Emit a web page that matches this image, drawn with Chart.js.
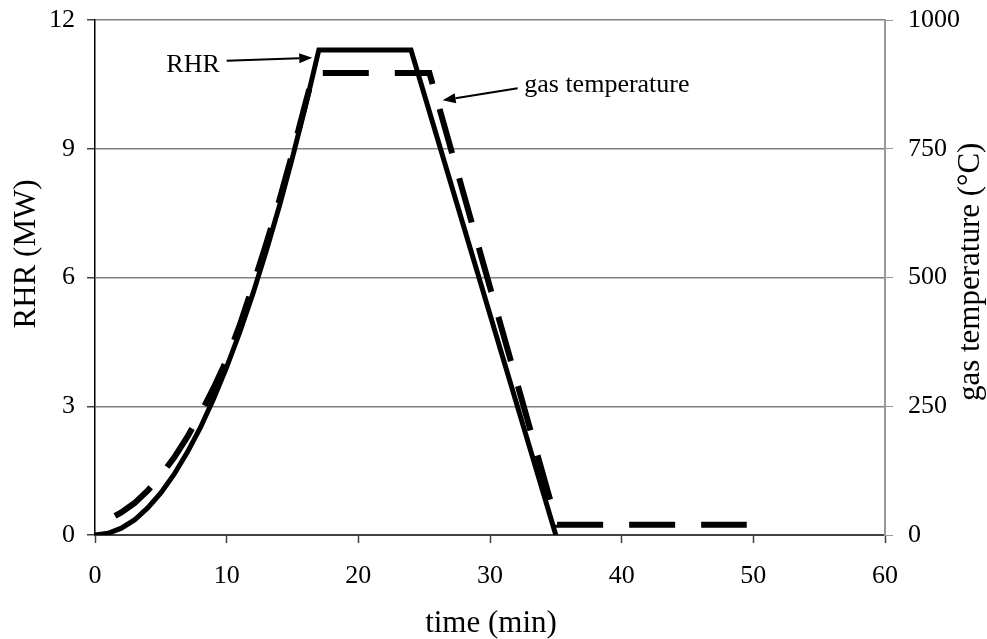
<!DOCTYPE html>
<html>
<head>
<meta charset="utf-8">
<script src="https://cdn.jsdelivr.net/npm/chart.js@4.4.1/dist/chart.umd.min.js"></script>
<style>
  html, body { margin: 0; padding: 0; background: #fff; }
  canvas { display: block; }
</style>
</head>
<body>
<canvas id="fireChart" width="987" height="639"></canvas>
<script>
// RHR curve (MW) vs time (min)
var rhrTime   = [0, 1, 2, 3, 4, 5, 6, 7, 8, 9, 10, 11, 12, 13, 14, 15, 16, 17, 24, 35];
var rhrValues = [0, 0.04, 0.16, 0.35, 0.63, 0.98, 1.41, 1.92, 2.5, 3.17, 3.91, 4.73, 5.63, 6.61, 7.66, 8.8, 10.01, 11.3, 11.3, 0];

// gas temperature (°C) vs time (min)
var gasTime   = [0, 1, 2, 3, 4, 5, 6, 7, 8, 9, 10, 11, 12, 13, 14, 15, 16, 16.6, 25.4, 35.1, 49.5];
var gasValues = [22, 30, 44, 62, 86, 116, 150, 190, 235, 285, 340, 408, 485, 565, 650, 742, 840, 897, 897, 20, 20];

var xTicks = [0, 10, 20, 30, 40, 50, 60];
var rhrTicks = [0, 3, 6, 9, 12];
var gasTicks = [0, 250, 500, 750, 1000];

var serif = '"Liberation Serif", "Times New Roman", serif';
var gasDash = [46, 26];

function toPoints(xs, ys) {
    var pts = [];
    for (var i = 0; i < xs.length; i++) {
        pts.push({ x: xs[i], y: ys[i] });
    }
    return pts;
}

// fixed box size for a scale, and no extra room for overflowing labels
function fixBox(w, h) {
    return function(s) {
        if (w) s.width = w;
        if (h) s.height = h;
        s.paddingTop = 0;
        s.paddingBottom = 0;
        s.paddingLeft = 0;
        s.paddingRight = 0;
    };
}

// shift the dash pattern so a dash starts where the cooled gas line turns flat
function gasDashOffset(context) {
    var chart = context.chart;
    var sx = chart.scales.x, sy = chart.scales.y1;
    if (!sx || !sy) return 0;
    var corner = gasTime.length - 2;
    var len = 0;
    for (var i = 1; i <= corner; i++) {
        var dx = sx.getPixelForValue(gasTime[i]) - sx.getPixelForValue(gasTime[i - 1]);
        var dy = sy.getPixelForValue(gasValues[i]) - sy.getPixelForValue(gasValues[i - 1]);
        len += Math.sqrt(dx * dx + dy * dy);
    }
    var period = gasDash[0] + gasDash[1];
    return (period - (len % period)) % period;
}

// label + arrow annotations, in data units (left axis for y)
var notes = [
    { text: 'RHR', tx: 7.45, ty: 10.95, align: 'center', from: [10.0, 11.05], to: [16.5, 11.12] },
    { text: 'gas temperature', tx: 32.6, ty: 10.48, align: 'left', from: [32.1, 10.41], to: [26.4, 10.13] }
];

var annotationPlugin = {
    id: 'arrows',
    afterDatasetsDraw: function(chart) {
        var c = chart.ctx;
        var sx = chart.scales.x, sy = chart.scales.y;
        c.save();
        c.fillStyle = '#000';
        c.strokeStyle = '#000';
        c.font = '26px ' + serif;
        c.textBaseline = 'middle';
        notes.forEach(function(n) {
            c.textAlign = n.align;
            c.fillText(n.text, sx.getPixelForValue(n.tx), sy.getPixelForValue(n.ty));
            var x1 = sx.getPixelForValue(n.from[0]), y1 = sy.getPixelForValue(n.from[1]);
            var x2 = sx.getPixelForValue(n.to[0]), y2 = sy.getPixelForValue(n.to[1]);
            var ang = Math.atan2(y2 - y1, x2 - x1);
            var hl = 13, hw = 5;
            var bx = x2 - hl * Math.cos(ang), by = y2 - hl * Math.sin(ang);
            c.lineWidth = 2;
            c.beginPath();
            c.moveTo(x1, y1);
            c.lineTo(bx, by);
            c.stroke();
            c.beginPath();
            c.moveTo(x2, y2);
            c.lineTo(bx + hw * Math.sin(ang), by - hw * Math.cos(ang));
            c.lineTo(bx - hw * Math.sin(ang), by + hw * Math.cos(ang));
            c.closePath();
            c.fill();
        });

        // axis titles (both vertical ones read bottom to top)
        var area = chart.chartArea;
        c.font = '31px ' + serif;
        c.textAlign = 'center';
        c.textBaseline = 'middle';
        c.fillText('time (min)', (area.left + area.right) / 2 + 1, area.bottom + 89);

        c.save();
        c.translate(area.left - 68, sy.getPixelForValue(6.55));
        c.rotate(-Math.PI / 2);
        c.fillText('RHR (MW)', 0, 0);
        c.restore();

        c.save();
        c.translate(area.right + 86, chart.scales.y1.getPixelForValue(511));
        c.rotate(-Math.PI / 2);
        c.fillText('gas temperature (°C)', 0, 0);
        c.restore();

        c.restore();
    }
};

var ctx = document.getElementById('fireChart').getContext('2d');
var fireChart = new Chart(ctx, {
    type: 'line',
    data: {
        datasets: [
            {
                label: 'RHR',
                data: toPoints(rhrTime, rhrValues),
                yAxisID: 'y',
                borderColor: '#000',
                borderWidth: 5,
                pointRadius: 0,
                tension: 0,
                fill: false
            },
            {
                label: 'gas temperature',
                data: toPoints(gasTime, gasValues),
                yAxisID: 'y1',
                borderColor: '#000',
                borderWidth: 6,
                borderDash: gasDash,
                borderDashOffset: gasDashOffset,
                borderCapStyle: 'butt',
                pointRadius: 0,
                tension: 0,
                fill: false
            }
        ]
    },
    options: {
        responsive: false,
        animation: false,
        devicePixelRatio: 1,
        layout: { padding: { top: 20, left: 0, right: 0, bottom: 0 } },
        plugins: {
            legend: { display: false },
            tooltip: { enabled: false }
        },
        scales: {
            x: {
                type: 'linear',
                min: 0,
                max: 60,
                afterFit: fixBox(0, 104),
                afterBuildTicks: function(s) { s.ticks = xTicks.map(function(v) { return { value: v }; }); },
                ticks: { color: '#000', font: { family: serif, size: 26 }, padding: 18, maxRotation: 0 },
                grid: { drawOnChartArea: false, tickLength: 8, tickColor: '#404040', tickWidth: 1.5 },
                border: { color: '#404040', width: 2 }
            },
            y: {
                position: 'left',
                min: 0,
                max: 12,
                afterFit: fixBox(95, 0),
                afterBuildTicks: function(s) { s.ticks = rhrTicks.map(function(v) { return { value: v }; }); },
                ticks: { color: '#000', font: { family: serif, size: 26 }, padding: 12 },
                grid: { color: '#808080', lineWidth: 1.5, tickLength: 8, tickColor: '#404040' },
                border: { color: '#000', width: 1.5 }
            },
            y1: {
                position: 'right',
                min: 0,
                max: 1000,
                afterFit: fixBox(102, 0),
                afterBuildTicks: function(s) { s.ticks = gasTicks.map(function(v) { return { value: v }; }); },
                ticks: {
                    color: '#000',
                    font: { family: serif, size: 26 },
                    padding: 15,
                    callback: function(v) { return String(v); }
                },
                grid: { drawOnChartArea: false, tickLength: 8, tickColor: '#999' },
                border: { color: '#999', width: 2 }
            }
        }
    },
    plugins: [annotationPlugin]
});
</script>
</body>
</html>
